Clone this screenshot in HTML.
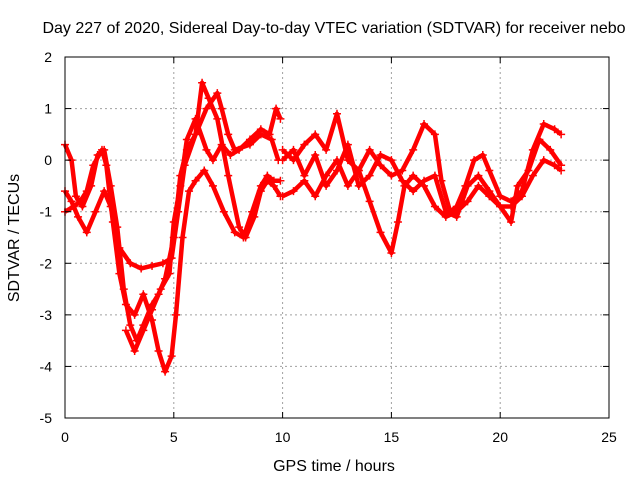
<!DOCTYPE html>
<html><head><meta charset="utf-8"><style>
body{margin:0;background:#fff}
svg{display:block;font-family:"Liberation Sans",sans-serif}
</style></head><body>
<svg id="chart" width="640" height="480">
<text x="334" y="33" text-anchor="middle" font-size="16">Day 227 of 2020, Sidereal Day-to-day VTEC variation (SDTVAR) for receiver nebo</text>
<text x="334" y="471" text-anchor="middle" font-size="16">GPS time / hours</text>
<text transform="translate(19,238) rotate(-90)" text-anchor="middle" font-size="16">SDTVAR / TECUs</text>
<g id="grid"></g><g id="series"></g><g id="ticks"></g>
<rect x="65" y="57" width="544" height="361" fill="none" stroke="#000"/>
</svg>
<script>
const xTicks=[0,5,10,15,20,25];
const yTicks=[2,1,0,-1,-2,-3,-4,-5];
const t1x=[0,0.3,0.6,1.0,1.4,1.8,2.1,2.5,3,3.5,4,4.5,4.9,5.2,5.5,6,6.5,7,7.2,7.5,7.8,8.5,9,9.5,9.8];
const t1y=[-0.6,-0.8,-1.1,-1.4,-1.0,-0.6,-0.9,-1.7,-2.0,-2.1,-2.05,-2.0,-1.9,-1.0,-0.1,0.5,1.0,1.3,1.0,0.5,0.2,0.3,0.5,0.4,0.0];
const t2x=[0,0.3,0.5,0.8,1.2,1.5,1.8,2.1,2.4,2.7,3,3.3,3.6,4,4.3,4.6,5,5.3,5.6,6,6.3,6.6,7,7.5,8,8.3,8.7,9,9.3,9.6,9.9];
const t2y=[0.3,0.0,-0.7,-0.9,-0.5,0.1,0.2,-0.5,-1.3,-2.5,-3.2,-3.5,-3.2,-2.8,-2.6,-2.3,-1.5,-0.3,0.2,0.5,1.5,1.2,0.8,-0.3,-1.3,-1.5,-1.1,-0.6,-0.4,-0.5,-0.7];
const t3x=[0,0.4,0.7,1,1.3,1.7,1.9,2.2,2.5,2.8,3.2,3.6,4,4.3,4.6,4.9,5.1,5.4,5.7,6,6.4,6.8,7.3,7.8,8.2,8.6,9,9.3,9.6,9.9];
const t3y=[-1.0,-0.9,-0.8,-0.6,-0.1,0.2,-0.1,-1.2,-2.2,-2.8,-3.0,-2.6,-3.1,-3.7,-4.1,-3.8,-3.0,-1.5,-0.6,-0.4,-0.2,-0.5,-1.0,-1.4,-1.5,-1.0,-0.5,-0.3,-0.4,-0.4];
const t4x=[2.8,3.2,3.6,4,4.4,4.8,5,5.3,5.6,6,6.5,6.8,7.2,7.6,8,8.5,9,9.4,9.7,9.9];
const t4y=[-3.3,-3.7,-3.3,-2.9,-2.5,-2.2,-1.2,-0.5,0.4,0.8,0.2,0.0,0.3,0.1,0.2,0.4,0.6,0.5,1.0,0.8];
const t5x=[10,10.5,11,11.5,12,12.5,13,13.5,14,14.5,15,15.5,16,16.5,17,17.3,17.7,18,18.4,18.8,19.2,19.5,20,20.5,21,21.5,22,22.5,22.8];
const t5y=[0.2,0.0,0.3,0.5,0.2,0.9,0.0,-0.2,0.2,-0.1,-0.3,-0.2,0.2,0.7,0.5,-0.4,-1.0,-0.9,-0.5,0.0,0.1,-0.2,-0.7,-0.8,-0.6,0.2,0.7,0.6,0.5];
const t6x=[10,10.5,11,11.5,12,12.5,13,13.5,14,14.5,15,15.3,15.6,16,16.5,17,17.5,18,18.5,19,19.5,20,20.5,21,21.5,22,22.5,22.8];
const t6y=[-0.7,-0.6,-0.4,-0.7,-0.3,0.0,-0.5,-0.2,-0.8,-1.4,-1.8,-1.2,-0.5,-0.3,-0.5,-0.9,-1.1,-1.0,-0.8,-0.5,-0.7,-0.9,-0.9,-0.7,-0.3,0.0,-0.1,-0.2];
const t7x=[10,10.5,11,11.5,12,12.5,13,13.5,14,14.5,15,15.5,16,16.5,17,17.5,18,18.5,19,19.5,20,20.5,20.8,21.3,21.8,22.3,22.8];
const t7y=[0.0,0.2,-0.3,0.1,-0.5,-0.2,0.3,-0.5,-0.3,0.1,0.0,-0.4,-0.6,-0.4,-0.3,-1.0,-1.1,-0.5,-0.3,-0.6,-0.9,-1.2,-0.5,-0.2,0.4,0.2,-0.1];
const tracks=[[t1x,t1y],[t2x,t2y],[t3x,t3y],[t4x,t4y],[t5x,t5y],[t6x,t6y],[t7x,t7y]];
const X=v=>65+v*544/25, Y=v=>57+(2-v)*361/7;
const NS="http://www.w3.org/2000/svg";
const grid=document.getElementById('grid'),ticks=document.getElementById('ticks'),ser=document.getElementById('series');
function mk(tag,attrs,parent){const e=document.createElementNS(NS,tag);for(const k in attrs)e.setAttribute(k,attrs[k]);parent.appendChild(e);return e;}
xTicks.forEach(v=>{
 if(v>0&&v<25){const g=mk('line',{x1:X(v),x2:X(v),y1:57,y2:418,stroke:'#a0a0a0','stroke-dasharray':'2,3'},grid);
 
 }
 const t=mk('text',{x:X(v),y:442,'text-anchor':'middle','font-size':14},ticks);t.textContent=v;
 
 
 mk('line',{x1:X(v),x2:X(v),y1:418,y2:412,stroke:'#000'},ticks);mk('line',{x1:X(v),x2:X(v),y1:57,y2:63,stroke:'#000'},ticks);
});
yTicks.forEach(v=>{
 if(v<2&&v>-5){const g=mk('line',{x1:65,x2:609,y1:Y(v),y2:Y(v),stroke:'#a0a0a0','stroke-dasharray':'2,3'},grid);
 
 }
 const t=mk('text',{x:52,y:Y(v)+5,'text-anchor':'end','font-size':14},ticks);t.textContent=v;
 
 
 mk('line',{x1:65,x2:71,y1:Y(v),y2:Y(v),stroke:'#000'},ticks);mk('line',{x1:609,x2:603,y1:Y(v),y2:Y(v),stroke:'#000'},ticks);
});
tracks.forEach((tr,i)=>{
 const pts=tr[0].map((x,j)=>X(x)+','+Y(tr[1][j])).join(' ');
 const pl=mk('polyline',{points:pts,fill:'none',stroke:'#f00','stroke-width':4.5,'stroke-linejoin':'round'},ser);
 
 
 tr[0].forEach((x,j)=>{const cx=X(x),cy=Y(tr[1][j]);
  const p=mk('path',{d:`M${cx-4},${cy}H${cx+4}M${cx},${cy-4}V${cy+4}`,stroke:'#f00','stroke-width':1.5},ser);
  
  });
});
</script>
</body></html>
